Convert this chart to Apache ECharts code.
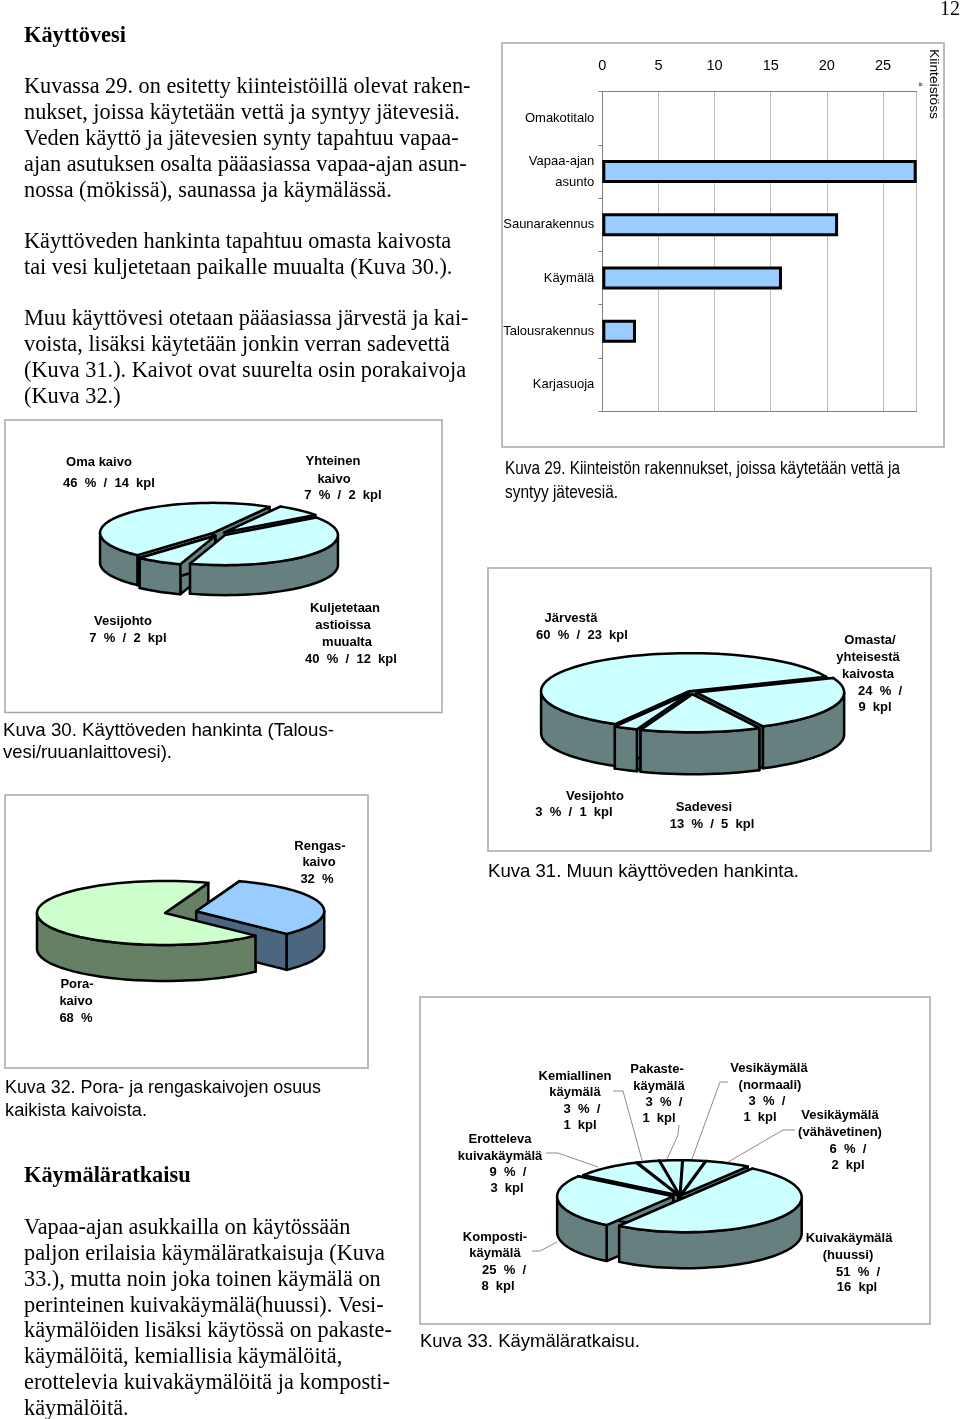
<!DOCTYPE html>
<html><head><meta charset="utf-8">
<style>html,body{margin:0;padding:0;background:#fff}#c{width:960px;height:1419px}</style>
<script src="https://cdn.jsdelivr.net/npm/echarts@6/dist/echarts.min.js"></script>
</head><body><div id="c"></div>
<script>
// ---- bar chart data (Kuva 29)
const buildingCategories = ['Omakotitalo','Vapaa-ajan\nasunto','Saunarakennus','Käymälä','Talousrakennus','Karjasuoja'];
const buildingCounts = [0,28,21,16,3,0];
// ---- pie data
const supplyNames = ['Oma kaivo','Yhteinen kaivo','Kuljetetaan astioissa muualta','Vesijohto'];
const supplyCounts = [14,2,12,2];
const otherWaterNames = ['Järvestä','Omasta/yhteisestä kaivosta','Sadevesi','Vesijohto'];
const otherWaterCounts = [23,9,5,1];
const wellNames = ['Porakaivo','Rengaskaivo'];
const wellShares = [68,32];
const toiletNames = ['Kuivakäymälä (huussi)','Kompostikäymälä','Erotteleva kuivakäymälä','Kemiallinen käymälä','Pakastekäymälä','Vesikäymälä (normaali)','Vesikäymälä (vähävetinen)'];
const toiletCounts = [16,8,3,1,1,1,2];

const SERIF='"Liberation Serif"', SANS='"Liberation Sans"';
const measure=document.createElement('canvas').getContext('2d');
const g=[];
function txt(x,y,s,font,o={}){
  let scaleX=1;
  if(o.w){measure.font=font;scaleX=o.w/measure.measureText(s).width;}
  g.push({type:'text',x,y:y+1,scaleX,rotation:o.rot||0,silent:true,z:10,
    style:{x:0,y:0,text:s,font,fill:o.fill||'#000',textAlign:o.align||'left',textVerticalAlign:'middle'}});
}
function frame(l,t,r,b){
  g.push({type:'rect',silent:true,z:0,shape:{x:l,y:t,width:r-l,height:b-t},style:{fill:'#fff',stroke:'#a6a6a6',lineWidth:1.5}});
}
function leader(pts){
  g.push({type:'polyline',silent:true,z:5,shape:{points:pts},style:{stroke:'#8c8c8c',lineWidth:1,fill:null}});
}
// frames
frame(502,43,944,447);frame(5,420,442,712.5);frame(488,568,931,851);frame(5,795,368,1068);frame(420,997,930,1324);

// body text
const BODY='22.3px '+SERIF, HEAD='bold 22.4px '+SERIF;
txt(24,35,'Käyttövesi',HEAD);
[[86,'Kuvassa 29. on esitetty kiinteistöillä olevat raken-'],[112,'nukset, joissa käytetään vettä ja syntyy jätevesiä.'],
 [138,'Veden käyttö ja jätevesien synty tapahtuu vapaa-'],[164,'ajan asutuksen osalta pääasiassa vapaa-ajan asun-'],
 [190,'nossa (mökissä), saunassa ja käymälässä.'],[241,'Käyttöveden hankinta tapahtuu omasta kaivosta'],
 [267,'tai vesi kuljetetaan paikalle muualta (Kuva 30.).'],[318,'Muu käyttövesi otetaan pääasiassa järvestä ja kai-'],
 [344,'voista, lisäksi käytetään jonkin verran sadevettä'],[370,'(Kuva 31.). Kaivot ovat suurelta osin porakaivoja'],
 [396,'(Kuva 32.)'],[1227,'Vapaa-ajan asukkailla on käytössään'],[1253,'paljon erilaisia käymäläratkaisuja (Kuva'],
 [1279,'33.), mutta noin joka toinen käymälä on'],[1305,'perinteinen kuivakäymälä(huussi). Vesi-'],
 [1330,'käymälöiden lisäksi käytössä on pakaste-'],[1356,'käymälöitä, kemiallisia käymälöitä,'],
 [1382,'erottelevia kuivakäymälöitä ja komposti-'],[1408,'käymälöitä.']
].forEach(l=>txt(24,l[0],l[1],BODY));
txt(24,1175,'Käymäläratkaisu',HEAD);
txt(960,9,'12','20px '+SERIF,{align:'right'});
// captions
const CAP='18.5px '+SANS;
txt(505,468,'Kuva 29. Kiinteistön rakennukset, joissa käytetään vettä ja',CAP,{w:395});
txt(505,492,'syntyy jätevesiä.',CAP,{w:113});
txt(3,730,'Kuva 30. Käyttöveden hankinta (Talous-',CAP,{w:331});
txt(3,752,'vesi/ruuanlaittovesi).',CAP,{w:169});
txt(488,871,'Kuva 31. Muun käyttöveden hankinta.',CAP,{w:311});
txt(5,1087,'Kuva 32. Pora- ja rengaskaivojen osuus',CAP,{w:316});
txt(5,1110,'kaikista kaivoista.',CAP,{w:142});
txt(420,1341,'Kuva 33. Käymäläratkaisu.',CAP,{w:220});
// bar chart rotated title
txt(934,48,'Kiinteistöss','13px '+SANS,{rot:-Math.PI/2,w:70});
txt(921,83,'ä:','6px '+SANS,{align:'center'});

// pie labels
const LAB='bold 13px '+SANS;
function lab(rows){rows.forEach(r=>txt(r[0],r[1],r[2],LAB,{align:'center'}));}
lab([[99,461,'Oma kaivo'],[109,482,'46  %  /  14  kpl'],[333,460,'Yhteinen'],[334,478,'kaivo'],[343,494,'7  %  /  2  kpl'],
 [123,620,'Vesijohto'],[128,637,'7  %  /  2  kpl'],[345,607,'Kuljetetaan'],[343,624,'astioissa'],[347,641,'muualta'],[351,658,'40  %  /  12  kpl'],
 [571,617,'Järvestä'],[582,634,'60  %  /  23  kpl'],[870,639,'Omasta/'],[868,656,'yhteisestä'],[868,673,'kaivosta'],[880,690,'24  %  /'],[875,706,'9  kpl'],
 [595,795,'Vesijohto'],[574,811,'3  %  /  1  kpl'],[704,806,'Sadevesi'],[712,823,'13  %  /  5  kpl'],
 [320,845,'Rengas-'],[319,861,'kaivo'],[317,878,'32  %'],[77,983,'Pora-'],[76,1000,'kaivo'],[76,1017,'68  %'],
 [769,1067,'Vesikäymälä'],[770,1084,'(normaali)'],[767,1100,'3  %  /'],[760,1116,'1  kpl'],
 [575,1075,'Kemiallinen'],[575,1091,'käymälä'],[582,1108,'3  %  /'],[580,1124,'1  kpl'],
 [657,1068,'Pakaste-'],[659,1085,'käymälä'],[664,1101,'3  %  /'],[659,1117,'1  kpl'],
 [840,1114,'Vesikäymälä'],[840,1131,'(vähävetinen)'],[848,1148,'6  %  /'],[848,1164,'2  kpl'],
 [500,1138,'Erotteleva'],[500,1155,'kuivakäymälä'],[508,1171,'9  %  /'],[507,1187,'3  kpl'],
 [495,1236,'Komposti-'],[495,1252,'käymälä'],[504,1269,'25  %  /'],[498,1285,'8  kpl'],
 [849,1237,'Kuivakäymälä'],[848,1254,'(huussi)'],[858,1271,'51  %  /'],[857,1286,'16  kpl']]);
// leader lines of Kuva 33
leader([[546,1153],[558,1153],[598,1167]]);
leader([[613,1091],[623,1091],[642,1160]]);
leader([[679,1125],[678,1135],[667,1159]]);
leader([[728,1082],[720,1082],[692,1159]]);
leader([[795,1130],[783,1130],[728,1162]]);
leader([[532,1251],[540,1251],[557,1242]]);

// 3D pie drawn from values
function pie3d(name,values,names,p){
  const total=values.reduce((a,b)=>a+b,0);
  const starts=[];let acc=p.start;
  values.forEach(v=>{starts.push(acc);acc+=v/total*360;});
  const rad=d=>d*Math.PI/180;
  return {type:'custom',name,coordinateSystem:'none',silent:true,animation:false,z:3,
    data:values.map((v,i)=>({name:names[i],value:[v,i]})),
    renderItem(params,api){
      const i=api.value(1),v=api.value(0);
      const a1=starts[i],a2=a1+v/total*360,mid=(a1+a2)/2;
      const e=(p.explode[i]||0);
      const ox=e*Math.sin(rad(mid))*p.rx,oy=-e*Math.cos(rad(mid))*p.ry;
      const P=(a,d=0)=>[p.cx+ox+p.rx*Math.sin(rad(a)),p.cy+oy-p.ry*Math.cos(rad(a))+d];
      const C=(d=0)=>[p.cx+ox,p.cy+oy+d];
      const arc=(b1,b2,d=0)=>{const r=[];const n=Math.max(2,Math.ceil((b2-b1)/3));for(let k=0;k<=n;k++)r.push(P(b1+(b2-b1)*k/n,d));return r;};
      const base=200+Math.round(-Math.cos(rad(mid))*100);
      const big=a2-a1>180;
      const sh=(points,fill,z2)=>({type:'polygon',z2,shape:{points},style:{fill,stroke:'#000',lineWidth:p.lw||2.5,lineJoin:'round'}});
      const kids=[];
      const rz=big?-200:base-250;
      [a1,a2].forEach(a=>kids.push(sh([C(),P(a),P(a,p.depth),C(p.depth)],p.side[i],rz)));
      [[90,270],[450,630]].forEach(w=>{
        const b1=Math.max(a1,w[0]),b2=Math.min(a2,w[1]);
        if(b2>b1)kids.push(sh(arc(b1,b2).concat(arc(b1,b2,p.depth).reverse()),p.side[i],base));
      });
      kids.push(sh([C()].concat(arc(a1,a2)),p.top[i],base));
      return {type:'group',children:kids};
    }};
}
const LB='#CCFFFF',DB='#668080';
const rep=(c,n)=>new Array(n).fill(c);
const series=[
 {type:'bar',name:'Kiinteistöissä',data:buildingCounts.map(v=>v===0?{value:v,itemStyle:{borderWidth:0}}:v),barWidth:23,xAxisIndex:0,yAxisIndex:0,animation:false,silent:true,
  itemStyle:{color:'#99CCFF',borderColor:'#000',borderWidth:3}},
 pie3d('Kuva 30',supplyCounts,supplyNames,{cx:219,cy:534,rx:113,ry:30,depth:30,start:222,explode:[.065,.065,.065,.065],top:rep(LB,4),side:rep(DB,4)}),
 pie3d('Kuva 31',otherWaterCounts,otherWaterNames,{cx:692,cy:692,rx:148,ry:38,depth:42,start:210,explode:[.03,.03,.06,.05],top:rep(LB,4),side:rep(DB,4)}),
 pie3d('Kuva 32',wellShares,wellNames,{cx:165,cy:913,rx:128,ry:32,depth:36,start:135,explode:[0,.25],top:['#CCFFCC','#99CCFF'],side:['#668066','#4D6680']}),
 pie3d('Kuva 33',toiletCounts,toiletNames,{cx:680,cy:1196,rx:116,ry:35,depth:36,start:35,explode:[.06,.06,.025,.025,.025,.025,.025],top:rep(LB,7),side:rep(DB,7)})
];
const chart=echarts.init(document.getElementById('c'),null,{renderer:'canvas',width:960,height:1419});
chart.setOption({
  backgroundColor:'#fff',animation:false,
  graphic:{elements:g},
  grid:{left:602.3,top:91.7,width:314.4,height:319.3,containLabel:false},
  xAxis:[{type:'value',position:'top',min:0,max:28,interval:5,
    axisLine:{show:true,lineStyle:{color:'#808080',width:1}},axisTick:{show:false},
    axisLabel:{showMaxLabel:false,margin:18,fontFamily:'Liberation Sans',fontSize:14.5,color:'#000'},
    splitLine:{show:true,lineStyle:{color:'#bfbfbf',width:1}}},
   {type:'value',position:'bottom',min:0,max:28,interval:5,
    axisLine:{show:true,lineStyle:{color:'#808080',width:1}},axisTick:{show:false},axisLabel:{show:false},splitLine:{show:false}}],
  yAxis:{type:'category',inverse:true,data:buildingCategories,
    axisLine:{show:true,lineStyle:{color:'#808080',width:1}},
    axisTick:{show:true,length:4,lineStyle:{color:'#808080'}},
    axisLabel:{margin:8,fontFamily:'Liberation Sans',fontSize:13,color:'#000',lineHeight:21,align:'right'}},
  series
});
</script></body></html>
